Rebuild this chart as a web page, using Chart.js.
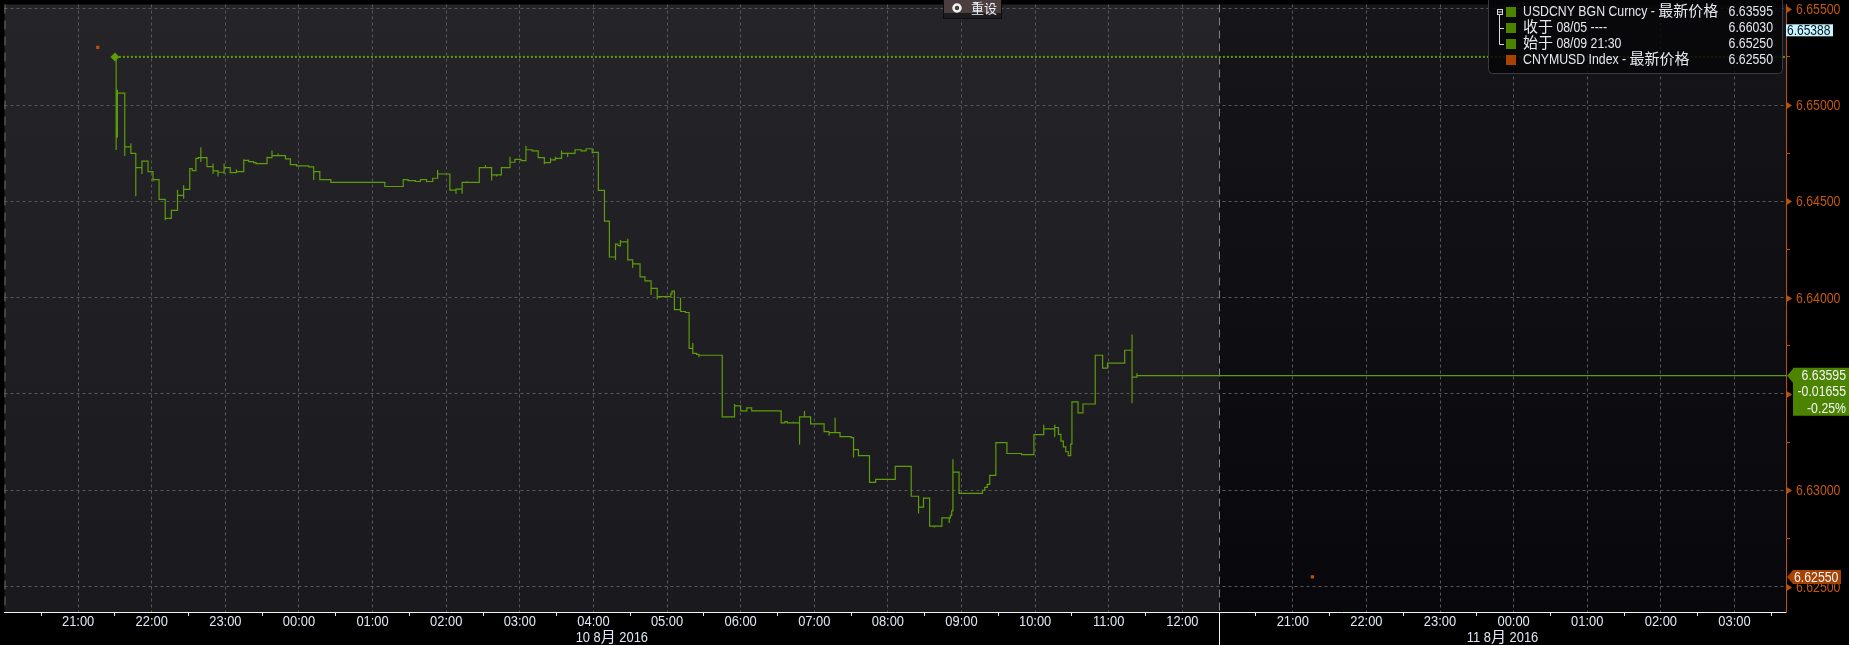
<!DOCTYPE html>
<html>
<head>
<meta charset="utf-8">
<script src="https://cdn.jsdelivr.net/npm/chart.js@4.4.1/dist/chart.umd.min.js"></script>
<style>
  html, body { margin: 0; padding: 0; background: #000; }
  #wrap { width: 1849px; height: 645px; position: relative; }
</style>
</head>
<body>
<div id="wrap"><canvas id="chartUsdCny"></canvas></div>
<script>
// USDCNY intraday, Bloomberg GP look. Session 1 = 09/10 Aug, session 2 = 10/11 Aug.
const usdcnyTimes = [
  '21:30','21:31','21:31','21:32','21:32','21:38','21:38','21:43','21:43','21:47',
  '21:47','21:52','21:52','21:52','21:57','22:01','22:01','22:06','22:11','22:11',
  '22:16','22:21','22:21','22:26','22:26','22:26','22:31','22:33','22:36','22:38',
  '22:40','22:40','22:40','22:45','22:50','22:50','22:50','22:54','22:54','22:54',
  '22:59','22:59','22:59','23:04','23:09','23:09','23:15','23:15','23:19','23:23',
  '23:25','23:34','23:34','23:38','23:38','23:43','23:43','23:49','23:53','23:58',
  '00:08','00:12','00:12','00:17','00:26','01:10','01:25','01:29','01:35','01:39',
  '01:44','01:44','01:49','01:53','01:53','02:03','02:08','02:08','02:13','02:13',
  '02:17','02:17','02:27','02:32','02:32','02:37','02:37','02:41','02:41','02:45',
  '02:45','02:52','02:52','02:56','03:01','03:05','03:05','03:10','03:15','03:20',
  '03:20','03:25','03:25','03:29','03:29','03:34','03:34','03:39','03:39','03:45',
  '03:50','03:54','03:59','03:59','04:04','04:09','04:13','04:18','04:18','04:20',
  '04:22','04:22','04:22','04:28','04:28','04:32','04:32','04:38','04:42','04:47',
  '04:47','04:52','04:52','05:03','05:04','05:06','05:06','05:11','05:11','05:15',
  '05:18','05:21','05:21','05:24','05:26','05:26','05:45','05:55','05:55','06:00',
  '06:05','06:09','06:33','06:36','06:38','06:43','06:43','06:48','06:48','06:52',
  '06:52','06:57','07:08','07:12','07:12','07:17','07:17','07:21','07:30','07:32',
  '07:32','07:36','07:45','07:50','08:06','08:19','08:25','08:25','08:29','08:34',
  '08:38','08:38','08:44','08:50','08:50','08:51','08:52','08:53','08:53','08:58',
  '09:17','09:19','09:21','09:23','09:28','09:37','09:49','09:59','10:07','10:07',
  '10:16','10:16','10:16','10:19','10:21','10:23','10:25','10:27','10:29','10:30',
  '10:30','10:35','10:39','10:49','10:55','10:59','11:13','11:19','11:19','11:19',
  '11:23','11:23'
];
const usdcnyPrices = [
  6.65250,6.64766,6.64835,6.65079,6.65062,6.64735,6.64783,6.64801,6.64749,6.64526,
  6.64675,6.64711,6.64642,6.64709,6.64654,6.64603,6.64613,6.64510,6.64402,6.64412,
  6.64453,6.64560,6.64531,6.64584,6.64514,6.64562,6.64670,6.64660,6.64723,6.64727,
  6.64780,6.64704,6.64727,6.64680,6.64697,6.64642,6.64658,6.64663,6.64629,6.64651,
  6.64642,6.64697,6.64675,6.64649,6.64666,6.64654,6.64718,6.64713,6.64706,6.64701,
  6.64696,6.64732,6.64727,6.64764,6.64737,6.64749,6.64737,6.64721,6.64691,6.64684,
  6.64679,6.64611,6.64654,6.64613,6.64598,6.64577,6.64613,6.64608,6.64603,6.64613,
  6.64599,6.64603,6.64620,6.64663,6.64642,6.64558,6.64539,6.64563,6.64539,6.64598,
  6.64605,6.64598,6.64675,6.64689,6.64675,6.64608,6.64637,6.64629,6.64637,6.64663,
  6.64675,6.64732,6.64703,6.64718,6.64711,6.64789,6.64768,6.64762,6.64727,6.64692,
  6.64701,6.64727,6.64715,6.64732,6.64723,6.64764,6.64749,6.64730,6.64749,6.64768,
  6.64762,6.64773,6.64749,6.64754,6.64557,6.64397,6.64211,6.64196,6.64278,6.64270,
  6.64299,6.64265,6.64290,6.64306,6.64196,6.64154,6.64175,6.64108,6.64087,6.64014,
  6.64048,6.63990,6.64005,6.64020,6.64034,6.64037,6.63938,6.64000,6.63928,6.63923,
  6.63737,6.63764,6.63711,6.63706,6.63691,6.63701,6.63381,6.63448,6.63438,6.63412,
  6.63428,6.63412,6.63350,6.63356,6.63350,6.63356,6.63350,6.63237,6.63381,6.63412,
  6.63381,6.63345,6.63304,6.63283,6.63299,6.63376,6.63299,6.63278,6.63273,6.63170,
  6.63211,6.63180,6.63041,6.63057,6.63124,6.62969,6.62880,6.62912,6.62959,6.62814,
  6.62807,6.62814,6.62857,6.62830,6.62857,6.62870,6.62893,6.63161,6.63094,6.62984,
  6.63000,6.63015,6.63031,6.63077,6.63247,6.63191,6.63185,6.63289,6.63340,6.63319,
  6.63340,6.63276,6.63326,6.63290,6.63255,6.63225,6.63200,6.63180,6.63240,6.63263,
  6.63459,6.63402,6.63448,6.63701,6.63634,6.63660,6.63727,6.63809,6.63452,6.63587,
  6.63607,6.63595
];
const lastPrice = 6.63595;
const closePrev = 6.66030;          // 收于 08/05
const startTime = '21:30';
const startPrice = 6.65250;         // 始于 08/09 21:30
const crosshairPrice = 6.65388;

const cnymusdTimes = ['21:16', '21:16'];
const cnymusdSessions = [1, 2];
const cnymusdPrices = [6.65299, 6.62550];
const cnymusdLast = 6.62550;

const session1Hours = ['21:00','22:00','23:00','00:00','01:00','02:00','03:00','04:00',
                       '05:00','06:00','07:00','08:00','09:00','10:00','11:00','12:00'];
const session2Hours = ['21:00','22:00','23:00','00:00','01:00','02:00','03:00'];
const session1Open = '20:00', session1Close = '12:30';
const session2Close = '03:42';
const dateLabels = ['10 8月 2016', '11 8月 2016'];

const yTickValues = [6.625, 6.6275, 6.630, 6.6325, 6.635, 6.6375, 6.640,
                     6.6425, 6.645, 6.6475, 6.650, 6.6525, 6.655];
const yAxisMin = 6.62368, yAxisMax = 6.65522;

const legendNames = ['USDCNY BGN Curncy - 最新价格', '收于 08/05 ----', '始于 08/09 21:30', 'CNYMUSD Index - 最新价格'];
const legendValues = [lastPrice, closePrev, startPrice, cnymusdLast];

// colours / fonts
const GREEN = '#5e9c08';
const GREEN_BOX = '#4c8400';
const ORANGE = '#b85206';
const ORANGE_TXT = '#c4580e';
const ORANGE_BOX = '#a84200';
const GRID = '#57575c';
const LABEL = '#dfe8f6';
const LATIN = '"Liberation Sans", Arial, sans-serif';
const HAN = '"Noto Sans CJK SC", sans-serif';

// session-compressed hour axis: 21:00 day 1 = 0, session 2 starts where session 1 ends
function toAxis(hhmm, session) {
  const [h, m] = hhmm.split(':').map(Number);
  let hrs = h + m / 60;
  if (hrs < 18) hrs += 24;
  return session === 1 ? hrs - 21 : toAxis(session1Close, 1) + (hrs - 20);
}
const xMin = toAxis(session1Open, 1);
const xMax = toAxis(session2Close, 2);
const isMajor = v => Math.round(v * 10000) % 50 === 0;

const xTicks = [];
session1Hours.forEach(h => {
  xTicks.push({ value: toAxis(h, 1), hour: h });
  xTicks.push({ value: toAxis(h, 1) - 0.5 });
});
session2Hours.forEach(h => {
  xTicks.push({ value: toAxis(h, 2), hour: h });
  xTicks.push({ value: toAxis(h, 2) - 0.5 });
});
xTicks.push({ value: toAxis('03:30', 2) });
xTicks.sort((p, q) => p.value - q.value);

const usdcnyPoints = usdcnyTimes.map((t, i) => ({ x: toAxis(t, 1), y: usdcnyPrices[i] }));
usdcnyPoints.push({ x: xMax, y: lastPrice });   // last price carried to the axis
const cnymusdPoints = cnymusdTimes.map((t, i) => ({ x: toAxis(t, cnymusdSessions[i]), y: cnymusdPrices[i] }));

// terminal font is narrow: squeeze latin runs, keep han glyphs full width
function runsOf(text) {
  const runs = [];
  for (const ch of text) {
    const han = /[\u3000-\u9fff\uff00-\uffef]/.test(ch);
    if (runs.length && runs[runs.length - 1].han === han) runs[runs.length - 1].s += ch;
    else runs.push({ han, s: ch });
  }
  return runs;
}
function drawText(ctx, text, x, y, align, size, squeeze) {
  const runs = runsOf(text);
  let total = 0;
  runs.forEach(r => {
    ctx.font = size + 'px ' + (r.han ? HAN : LATIN);
    r.w = ctx.measureText(r.s).width * (r.han ? 1 : squeeze);
    total += r.w;
  });
  let cx = align === 'right' ? x - total : align === 'center' ? x - total / 2 : x;
  ctx.textAlign = 'left';
  ctx.textBaseline = 'middle';
  runs.forEach(r => {
    ctx.font = size + 'px ' + (r.han ? HAN : LATIN);
    ctx.save();
    ctx.translate(cx, r.han ? y - 1.5 : y);
    if (!r.han) ctx.scale(squeeze, 1);
    ctx.fillText(r.s, 0, 0);
    ctx.restore();
    cx += r.w;
  });
}

function flag(ctx, tipX, py, x0, x1, top, bottom, fill) {
  ctx.fillStyle = fill;
  ctx.beginPath();
  ctx.moveTo(tipX, py);
  ctx.lineTo(x0, py - 7);
  ctx.lineTo(x0, top);
  ctx.lineTo(x1, top);
  ctx.lineTo(x1, bottom);
  ctx.lineTo(x0, bottom);
  ctx.lineTo(x0, py + 7);
  ctx.closePath();
  ctx.fill();
}

const bbgDecor = {
  id: 'bbgDecor',
  beforeDraw(chart) {
    const { ctx, width, height, chartArea: a, scales: { x } } = chart;
    const split = Math.round(x.getPixelForValue(toAxis(session1Close, 1)));
    ctx.save();
    ctx.fillStyle = '#000';
    ctx.fillRect(0, 0, width, height);
    let g = ctx.createLinearGradient(0, a.top, 0, a.bottom);
    g.addColorStop(0, '#252529');
    g.addColorStop(1, '#1a1a1e');
    ctx.fillStyle = g;
    ctx.fillRect(a.left, a.top, split - a.left, a.bottom - a.top);
    g = ctx.createLinearGradient(0, a.top, 0, a.bottom);
    g.addColorStop(0, '#16161a');
    g.addColorStop(1, '#08080c');
    ctx.fillStyle = g;
    ctx.fillRect(split, a.top, a.right - split, a.bottom - a.top);
    ctx.restore();
  },
  beforeDatasetsDraw(chart) {
    const { ctx, height, chartArea: a, scales: { x } } = chart;
    const split = Math.round(x.getPixelForValue(toAxis(session1Close, 1))) + 0.5;
    ctx.save();
    ctx.lineWidth = 1;
    // session edges
    ctx.strokeStyle = '#6c6c70';
    ctx.setLineDash([9, 7]);
    ctx.beginPath(); ctx.moveTo(a.left + 0.5, a.top); ctx.lineTo(a.left + 0.5, a.bottom); ctx.stroke();
    ctx.strokeStyle = '#808085';
    ctx.setLineDash([8, 5]);
    ctx.beginPath(); ctx.moveTo(split, a.top); ctx.lineTo(split, a.bottom); ctx.stroke();
    ctx.setLineDash([]);
    ctx.strokeStyle = '#f0f0f0';
    ctx.beginPath(); ctx.moveTo(split, a.bottom); ctx.lineTo(split, height); ctx.stroke();
    ctx.restore();
  },
  afterDraw(chart) {
    const { ctx, width, chartArea: a, scales: { x, y } } = chart;
    ctx.save();

    // price labels with arrow heads
    y.ticks.forEach(t => {
      if (!isMajor(t.value)) return;
      const py = Math.round(y.getPixelForValue(t.value)) + 0.5;
      ctx.fillStyle = ORANGE;
      ctx.beginPath();
      ctx.moveTo(a.right, py - 4);
      ctx.lineTo(a.right + 6, py);
      ctx.lineTo(a.right, py + 4);
      ctx.fill();
      ctx.fillStyle = ORANGE_TXT;
      drawText(ctx, t.value.toFixed(5), a.right + 10, py, 'left', 15, 0.82);
    });

    // hour labels and date captions
    ctx.fillStyle = LABEL;
    x.ticks.forEach(t => {
      if (t.hour) drawText(ctx, t.hour, x.getPixelForValue(t.value), a.bottom + 10, 'center', 15, 0.86);
    });
    drawText(ctx, dateLabels[0], x.getPixelForValue(toAxis('04:15', 1)), a.bottom + 26, 'center', 15, 0.86);
    drawText(ctx, dateLabels[1], x.getPixelForValue(toAxis('23:51', 2)), a.bottom + 26, 'center', 15, 0.86);

    // last price flag with change vs start
    let py = y.getPixelForValue(lastPrice);
    flag(ctx, a.right + 1, py, a.right + 7, width, py - 8, py + 40, GREEN_BOX);
    const chg = lastPrice - startPrice;
    ctx.fillStyle = '#f4f6ff';
    drawText(ctx, lastPrice.toFixed(5), width - 3, py, 'right', 15, 0.82);
    drawText(ctx, chg.toFixed(5), width - 3, py + 16.5, 'right', 15, 0.82);
    drawText(ctx, (chg / startPrice * 100).toFixed(2) + '%', width - 3, py + 33, 'right', 15, 0.82);

    // CNYMUSD flag
    py = y.getPixelForValue(cnymusdLast);
    flag(ctx, a.right + 1, py, a.right + 7, a.right + 55, py - 7, py + 7, ORANGE_BOX);
    ctx.fillStyle = '#f4f6ff';
    drawText(ctx, cnymusdLast.toFixed(5), a.right + 8, py + 0.5, 'left', 15, 0.82);

    // crosshair value
    py = y.getPixelForValue(crosshairPrice);
    ctx.fillStyle = '#c8f4ff';
    ctx.fillRect(a.right, py - 6, 47, 12);
    ctx.fillStyle = '#06121e';
    drawText(ctx, crosshairPrice.toFixed(5), a.right + 1, py + 0.5, 'left', 15, 0.8);

    // legend box
    const lx = a.right - 298, lr = a.right - 4;
    ctx.fillStyle = 'rgba(6,6,9,0.85)';
    ctx.strokeStyle = '#3a3a3f';
    ctx.lineWidth = 1;
    ctx.beginPath();
    ctx.roundRect(lx + 0.5, -6.5, lr - lx, 80, 4);
    ctx.fill();
    ctx.stroke();
    const rowY = [12, 28, 44, 60];
    ctx.strokeStyle = '#d8d8e0';
    ctx.strokeRect(lx + 9.5, 9.5, 5, 5);
    ctx.beginPath();
    ctx.moveTo(lx + 10, 12); ctx.lineTo(lx + 14, 12);
    ctx.moveTo(lx + 11.5, 15); ctx.lineTo(lx + 11.5, 44.5);
    ctx.moveTo(lx + 11.5, 28.5); ctx.lineTo(lx + 16, 28.5);
    ctx.moveTo(lx + 11.5, 44.5); ctx.lineTo(lx + 16, 44.5);
    ctx.stroke();
    legendNames.forEach((name, i) => {
      ctx.fillStyle = i < 3 ? GREEN_BOX : ORANGE_BOX;
      ctx.fillRect(lx + 18, rowY[i] - 5, 10, 10);
      ctx.fillStyle = '#e6e8f0';
      drawText(ctx, name, lx + 35, rowY[i], 'left', 15, 0.82);
      drawText(ctx, legendValues[i].toFixed(5), lr - 9, rowY[i], 'right', 15, 0.82);
    });

    // reset button
    const bx = 943;
    ctx.fillStyle = '#1c1c20';
    ctx.fillRect(bx, 0, 59, 19);
    ctx.fillStyle = '#4b3e3e';
    ctx.fillRect(bx, 0, 59, 13);
    ctx.strokeStyle = '#0c0c0e';
    ctx.strokeRect(bx + 0.5, -0.5, 58, 19);
    ctx.strokeStyle = '#f4f4f4';
    ctx.lineWidth = 2.5;
    ctx.beginPath();
    ctx.arc(bx + 14, 8, 3.5, 0, Math.PI * 2);
    ctx.stroke();
    ctx.fillStyle = '#eef0f8';
    drawText(ctx, '重设', bx + 28, 9.5, 'left', 13, 1);

    ctx.restore();
  }
};

new Chart(document.getElementById('chartUsdCny'), {
  type: 'line',
  data: {
    datasets: [
      {
        label: '始于 08/09 21:30',
        data: [{ x: toAxis(startTime, 1), y: startPrice }, { x: xMax, y: startPrice }],
        borderColor: GREEN,
        borderWidth: 2,
        borderDash: [2, 2],
        pointRadius: c => (c.dataIndex === 0 ? 4.5 : 0),
        pointStyle: 'rectRot',
        pointBackgroundColor: GREEN,
        pointBorderWidth: 0
      },
      {
        label: 'USDCNY BGN Curncy',
        data: usdcnyPoints,
        stepped: true,
        borderColor: GREEN,
        borderWidth: 1.2,
        pointRadius: 0
      },
      {
        label: 'CNYMUSD Index',
        data: cnymusdPoints,
        showLine: false,
        pointStyle: 'rect',
        pointRadius: 2.3,
        pointBackgroundColor: '#c24c00',
        pointBorderWidth: 0
      }
    ]
  },
  options: {
    responsive: true,
    maintainAspectRatio: false,
    animation: false,
    layout: { padding: 0 },
    plugins: { legend: { display: false }, tooltip: { enabled: false } },
    scales: {
      x: {
        type: 'linear',
        min: xMin,
        max: xMax,
        afterBuildTicks: axis => { axis.ticks = xTicks.map(t => ({ ...t })); },
        afterFit: axis => { axis.height = 33; axis.paddingLeft = 0; axis.paddingRight = 0; },
        grid: {
          color: c => (c.tick && c.tick.hour ? GRID : 'transparent'),
          drawTicks: true,
          tickLength: 4,
          tickColor: c => (c.tick && !c.tick.hour ? '#e8e8e8' : 'transparent')
        },
        border: { color: '#f2f2f2', width: 1, dash: [3, 3] },
        ticks: { display: false, autoSkip: false, maxRotation: 0 }
      },
      y: {
        position: 'right',
        min: yAxisMin,
        max: yAxisMax,
        afterBuildTicks: axis => { axis.ticks = yTickValues.map(v => ({ value: v })); },
        afterFit: axis => { axis.width = 63; axis.paddingTop = 0; axis.paddingBottom = 0; },
        grid: {
          color: c => (c.tick && isMajor(c.tick.value) ? GRID : 'transparent'),
          drawTicks: true,
          tickLength: 4,
          tickColor: c => (c.tick && !isMajor(c.tick.value) ? ORANGE : 'transparent')
        },
        border: { color: ORANGE, width: 1, dash: [3, 3] },
        ticks: { display: false }
      }
    }
  },
  plugins: [bbgDecor]
});
</script>
</body>
</html>
